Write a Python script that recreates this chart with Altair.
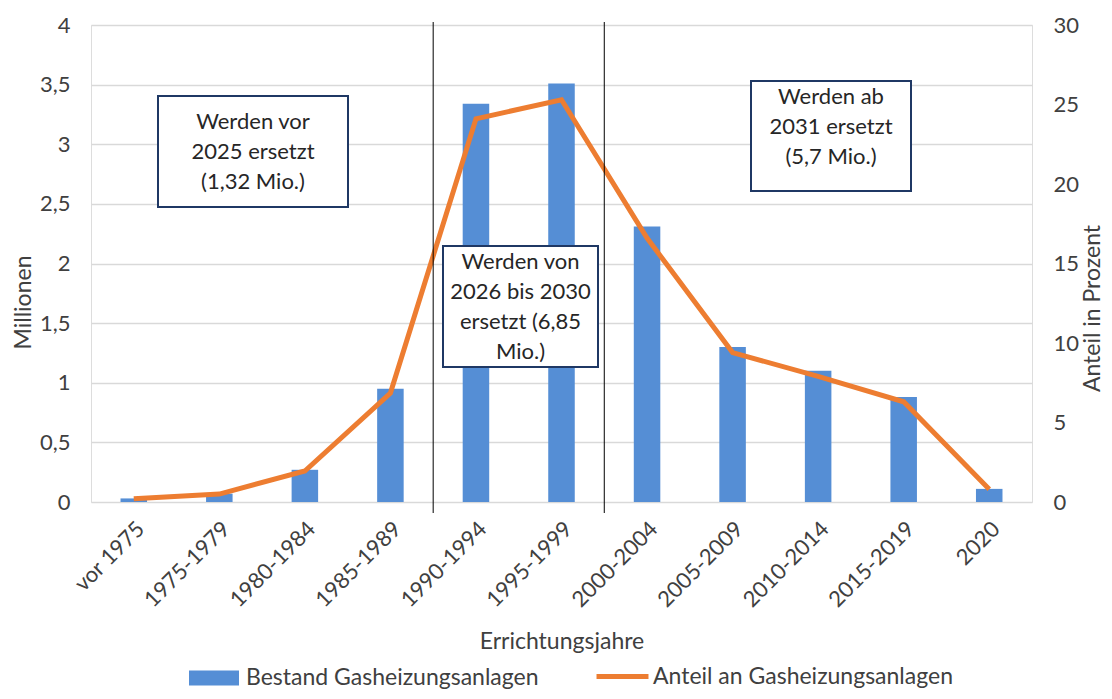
import altair as alt
import pandas as pd

# ---------------- data ----------------
categories = ["vor 1975", "1975-1979", "1980-1984", "1985-1989", "1990-1994",
              "1995-1999", "2000-2004", "2005-2009", "2010-2014", "2015-2019", "2020"]
bestand_mio = [0.03, 0.07, 0.27, 0.95, 3.34, 3.51, 2.31, 1.30, 1.10, 0.88, 0.11]
anteil_prozent = [0.2, 0.5, 1.95, 6.85, 24.1, 25.3, 16.6, 9.4, 7.9, 6.3, 0.8]
series_names = ["Bestand Gasheizungsanlagen", "Anteil an Gasheizungsanlagen"]
left_ticks = [0, 0.5, 1, 1.5, 2, 2.5, 3, 3.5, 4]
right_ticks = [0, 5, 10, 15, 20, 25, 30]
phase_starts = ["1990-1994", "2000-2004"]
box1_text = ["Werden vor", "2025 ersetzt", "(1,32 Mio.)"]
box2_text = ["Werden von", "2026 bis 2030", "ersetzt (6,85", "Mio.)"]
box3_text = ["Werden ab", "2031 ersetzt", "(5,7 Mio.)"]
x_title = "Errichtungsjahre"
y_left_title = "Millionen"
y_right_title = "Anteil in Prozent"

df = pd.DataFrame({"cat": categories, "bestand": bestand_mio, "anteil": anteil_prozent})
df["s_bar"] = series_names[0]
df["s_line"] = series_names[1]
rules_df = pd.DataFrame({"cat": phase_starts})
one = pd.DataFrame({"k": [0]})

# ---------------- style ----------------
W, H = 941, 477
FONT = "Lato"
BLUE = "#558ed5"
ORANGE = "#ed7d31"
NAVY = "#1f3864"
TXT = "#404040"
FS = 22      # tick labels, box text
FT = 23      # axis titles, legend

x_scale = alt.Scale(domain=categories, paddingInner=0, paddingOuter=0)
x_axis = alt.Axis(title=x_title, labelAngle=315, labelPadding=16, ticks=False,
                  domain=False, labelFontSize=FS, labelColor=TXT, labelFont=FONT,
                  titleFontSize=FT, titleFontWeight="normal", titleColor=TXT,
                  titleFont=FONT, titleY=146, titleBaseline="alphabetic")


def xenc(**kw):
    return alt.X("cat:N", sort=categories, scale=x_scale, axis=x_axis, **kw)


bars = alt.Chart(df).mark_bar(width=alt.RelativeBandSize(0.31)).encode(
    x=xenc(),
    y=alt.Y("bestand:Q", scale=alt.Scale(domain=[0, 4], nice=False),
            axis=alt.Axis(values=left_ticks,
                          labelExpr="replace(format(datum.value, '~g'), '.', ',')",
                          title=y_left_title, titleAngle=270, titleX=-61, titleY=277,
                          titleBaseline="alphabetic", titleAlign="center",
                          domain=False, ticks=False, labelPadding=21,
                          grid=True, gridColor="#d9d9d9", gridWidth=1.3,
                          labelFontSize=FS, labelColor=TXT, labelFont=FONT,
                          titleFontSize=FT, titleFontWeight="normal", titleColor=TXT,
                          titleFont=FONT)),
    fill=alt.Fill("s_bar:N",
                  scale=alt.Scale(domain=[series_names[0]], range=[BLUE]),
                  legend=alt.Legend(title=None, orient="none", legendX=98, legendY=628,
                                    symbolType="M-1,-0.3H1V0.3H-1Z", symbolSize=2500,
                                    symbolStrokeWidth=0, symbolOpacity=1, labelOffset=7,
                                    padding=0, labelLimit=0, labelFontSize=FT,
                                    labelFont=FONT, labelColor=TXT)),
)

line = alt.Chart(df).mark_line(strokeWidth=5, strokeJoin="miter").encode(
    x=xenc(),
    y=alt.Y("anteil:Q", scale=alt.Scale(domain=[0, 30], nice=False),
            axis=alt.Axis(orient="right", values=right_ticks, title=y_right_title,
                          titleAngle=270, titleX=67, titleY=283, titleBaseline="alphabetic",
                          titleAlign="center", domain=False, ticks=False, grid=False,
                          labelPadding=21, labelFontSize=FS, labelColor=TXT, labelFont=FONT,
                          titleFontSize=FT, titleFontWeight="normal", titleColor=TXT,
                          titleFont=FONT)),
    stroke=alt.Stroke("s_line:N",
                      scale=alt.Scale(domain=[series_names[1]], range=[ORANGE]),
                      legend=alt.Legend(title=None, orient="none", legendX=503, legendY=623,
                                        symbolType="stroke", symbolSize=2700,
                                        symbolStrokeWidth=5, labelOffset=2, padding=0,
                                        labelLimit=0, labelFontSize=FT, labelFont=FONT,
                                        labelColor=TXT)),
)

rules = alt.Chart(rules_df).mark_rule(color="black", strokeWidth=1).encode(
    x=xenc(bandPosition=0),
    y=alt.value(-3),
    y2=alt.value(H + 11),
)


def box(x1, x2, y1, y2, lines, first_y):
    r = alt.Chart(one).mark_rect(fill="white", stroke=NAVY, strokeWidth=2).encode(
        x=alt.value(x1), x2=alt.value(x2), y=alt.value(y1), y2=alt.value(y2))
    t = alt.Chart(one).mark_text(text=lines, align="center", baseline="middle",
                                 lineHeight=30, fontSize=FS, font=FONT,
                                 color="#262626").encode(
        x=alt.value((x1 + x2) / 2), y=alt.value(first_y))
    return [r, t]


layers = [bars, line, rules]
layers += box(67, 257, 71, 182, box1_text, 97)
layers += box(352, 507, 221, 342, box2_text, 237)
layers += box(660, 820, 56, 166, box3_text, 72)

chart = alt.layer(*layers).resolve_scale(y="independent").properties(
    width=W, height=H,
    autosize=alt.AutoSizeParams(type="none"),
    padding={"left": 83, "top": 17, "right": 72, "bottom": 189},
).configure_view(stroke=None).configure(font=FONT)

chart.save("out.html", embed_options={"renderer": "svg", "actions": False})
